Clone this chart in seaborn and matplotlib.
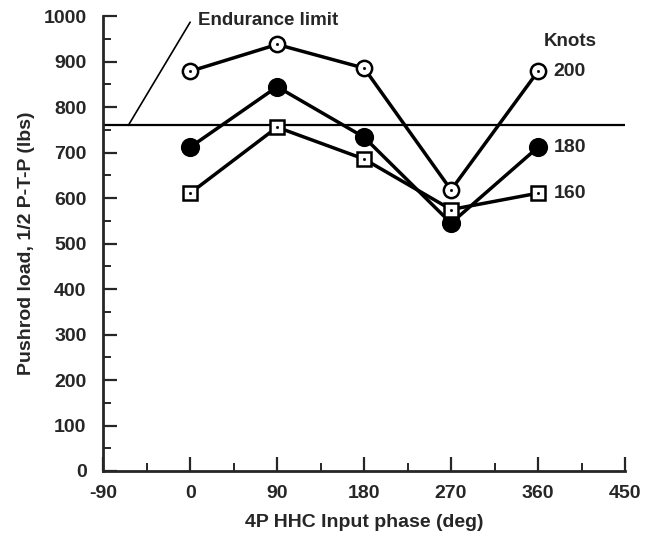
import matplotlib
matplotlib.use("Agg")
import matplotlib.pyplot as plt
import seaborn as sns
import pandas as pd

phase = [0, 90, 180, 270, 360]
knots_200 = [879, 938, 886, 618, 879]
knots_180 = [712, 845, 734, 545, 712]
knots_160 = [611, 756, 686, 575, 611]
series_labels = ["200", "180", "160"]
endurance_limit = 760
x_ticks = [-90, 0, 90, 180, 270, 360, 450]
y_ticks = [0, 100, 200, 300, 400, 500, 600, 700, 800, 900, 1000]

sns.set_theme(style="ticks")
plt.rcParams['font.family'] = ['Liberation Sans', 'DejaVu Sans']
plt.rcParams['font.weight'] = 'bold'
plt.rcParams['axes.unicode_minus'] = False

fig = plt.figure(figsize=(6.49, 5.42), dpi=100)
ax = fig.add_axes([0.159, 0.131, 0.804, 0.839])

df = pd.DataFrame({"phase": phase * 3,
                   "load": knots_200 + knots_180 + knots_160,
                   "knots": [series_labels[0]] * 5 + [series_labels[1]] * 5 + [series_labels[2]] * 5})

styles = {
    "200": dict(marker="o", mfc="white", ms=11, dot=True),
    "180": dict(marker="o", mfc="black", ms=12, dot=False),
    "160": dict(marker="s", mfc="white", ms=9.5, dot=True),
}
for k in series_labels:
    sub = df[df["knots"] == k]
    st = styles[k]
    sns.lineplot(data=sub, x="phase", y="load", ax=ax, color="black", lw=2.5,
                 marker=st["marker"], markersize=st["ms"], markerfacecolor=st["mfc"],
                 markeredgecolor="black", markeredgewidth=1.8, zorder=3)
    if st["dot"]:
        sns.scatterplot(data=sub, x="phase", y="load", ax=ax, color="black", s=4,
                        edgecolor="black", zorder=4)

ax.axhline(endurance_limit, color="black", lw=1.6, zorder=2)
ax.plot([-64, 0], [endurance_limit, 987], color="black", lw=1.2)
ax.text(8, 990, "Endurance limit", fontsize=13.5, fontweight="bold", va="center", ha="left")
ax.text(393, 945, "Knots", fontsize=13.5, fontweight="bold", va="center", ha="center")
ax.text(376, knots_200[-1], series_labels[0], fontsize=14, fontweight="bold", va="center", ha="left")
ax.text(376, knots_180[-1], series_labels[1], fontsize=14, fontweight="bold", va="center", ha="left")
ax.text(376, knots_160[-1], series_labels[2], fontsize=14, fontweight="bold", va="center", ha="left")

ax.set_xlim(-90, 450)
ax.set_ylim(0, 1000)
ax.set_xticks(x_ticks)
ax.set_xticks([-45, 45, 135, 225, 315, 405], minor=True)
ax.set_yticks(y_ticks)
ax.set_yticks(list(range(50, 1000, 100)), minor=True)
ax.tick_params(which="major", direction="in", length=10, width=1.6, labelsize=14)
ax.tick_params(axis="y", which="major", pad=12)
ax.tick_params(axis="x", which="major", pad=10)
ax.tick_params(which="minor", direction="in", length=6, width=1.4)
for lab in ax.get_xticklabels() + ax.get_yticklabels():
    lab.set_fontweight("bold")
sns.despine(ax=ax)
for s in ["left", "bottom"]:
    ax.spines[s].set_linewidth(2)
ax.set_xlabel("4P HHC Input phase (deg)", fontsize=14, fontweight="bold", labelpad=9)
ax.set_ylabel("Pushrod load, 1/2 P-T-P (lbs)", fontsize=14, fontweight="bold", labelpad=6)
ax.legend_ = None

fig.savefig("out.png", dpi=100)
